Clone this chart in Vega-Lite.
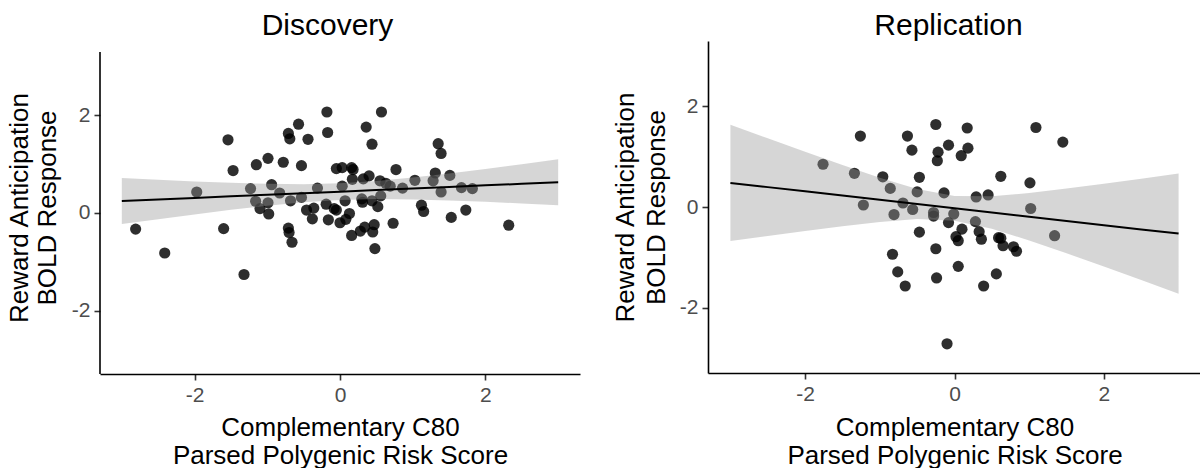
{
  "$schema": "https://vega.github.io/schema/vega-lite/v6.json",
  "padding": {"left": 6, "top": 10, "right": 0, "bottom": 0},
  "background": "white",
  "config": {
    "view": {"stroke": null},
    "font": "Liberation Sans",
    "axis": {"grid": false, "domainColor": "black", "domainWidth": 1.6, "tickColor": "#333333", "tickWidth": 1.6, "tickSize": 6, "labelFontSize": 21, "labelColor": "#4d4d4d", "labelPadding": 4, "titleFontSize": 26, "titleFontWeight": "normal", "titleColor": "black", "titleLineHeight": 28, "labelExpr": "'' + datum.value"}
  },
  "datasets": {
    "disc": [
      {"x": -2.81, "y": -0.33}, {"x": -2.41, "y": -0.82}, {"x": -1.97, "y": 0.43}, {"x": -1.54, "y": 1.50}, {"x": -1.47, "y": 0.87}, {"x": -1.60, "y": -0.32}, {"x": -1.32, "y": -1.26}, {"x": -1.23, "y": 0.50}, {"x": -1.15, "y": 0.99}, {"x": -0.99, "y": 1.12}, {"x": -0.94, "y": 0.58}, {"x": -1.16, "y": 0.24}, {"x": -1.10, "y": 0.09}, {"x": -0.99, "y": 0.21}, {"x": -0.98, "y": -0.02}, {"x": -0.83, "y": 0.41}, {"x": -0.78, "y": 1.04}, {"x": -0.71, "y": 1.63}, {"x": -0.69, "y": 1.52}, {"x": -0.57, "y": 1.82}, {"x": -0.44, "y": 1.51}, {"x": -0.53, "y": 0.97}, {"x": -0.68, "y": 0.25}, {"x": -0.71, "y": -0.31}, {"x": -0.70, "y": -0.40}, {"x": -0.66, "y": -0.60}, {"x": -0.53, "y": 0.32}, {"x": -0.46, "y": 0.06}, {"x": -0.36, "y": 0.10}, {"x": -0.38, "y": -0.12}, {"x": -0.31, "y": 0.51}, {"x": -0.18, "y": 2.07}, {"x": -0.17, "y": 1.65}, {"x": -0.19, "y": 0.18}, {"x": -0.16, "y": -0.14}, {"x": -0.08, "y": 0.09}, {"x": -0.05, "y": 0.06}, {"x": -0.05, "y": 0.91}, {"x": 0.03, "y": 0.93}, {"x": 0.16, "y": 0.93}, {"x": 0.18, "y": 0.89}, {"x": 0.17, "y": 0.69}, {"x": 0.03, "y": 0.55}, {"x": 0.07, "y": 0.25}, {"x": 0.00, "y": -0.20}, {"x": 0.08, "y": -0.13}, {"x": 0.13, "y": -0.01}, {"x": 0.16, "y": -0.46}, {"x": 0.28, "y": -0.37}, {"x": 0.34, "y": -0.29}, {"x": 0.45, "y": -0.39}, {"x": 0.47, "y": -0.24}, {"x": 0.48, "y": -0.73}, {"x": 0.36, "y": 1.76}, {"x": 0.57, "y": 2.07}, {"x": 0.44, "y": 1.41}, {"x": 0.32, "y": 0.70}, {"x": 0.40, "y": 0.76}, {"x": 0.30, "y": 0.29}, {"x": 0.31, "y": 0.22}, {"x": 0.44, "y": 0.25}, {"x": 0.52, "y": 0.13}, {"x": 0.56, "y": 0.35}, {"x": 0.55, "y": 0.66}, {"x": 0.63, "y": 0.61}, {"x": 0.69, "y": 0.55}, {"x": 0.77, "y": 0.89}, {"x": 0.73, "y": -0.21}, {"x": 0.86, "y": 0.51}, {"x": 1.03, "y": 0.67}, {"x": 1.12, "y": 0.16}, {"x": 1.15, "y": 0.03}, {"x": 1.28, "y": 0.66}, {"x": 1.31, "y": 0.82}, {"x": 1.35, "y": 1.42}, {"x": 1.39, "y": 1.22}, {"x": 1.39, "y": 0.43}, {"x": 1.51, "y": 0.77}, {"x": 1.53, "y": -0.09}, {"x": 1.67, "y": 0.52}, {"x": 1.82, "y": 0.50}, {"x": 1.73, "y": 0.06}, {"x": 2.32, "y": -0.25}
    ],
    "disc_fit": [
      {"x": -3, "fit": 0.245, "lo": -0.225, "hi": 0.715}, {"x": -2.5, "fit": 0.277, "lo": -0.126, "hi": 0.680}, {"x": -2, "fit": 0.309, "lo": -0.029, "hi": 0.647}, {"x": -1.5, "fit": 0.341, "lo": 0.064, "hi": 0.618}, {"x": -1, "fit": 0.373, "lo": 0.149, "hi": 0.597}, {"x": -0.5, "fit": 0.405, "lo": 0.220, "hi": 0.590}, {"x": 0, "fit": 0.437, "lo": 0.267, "hi": 0.607}, {"x": 0.5, "fit": 0.470, "lo": 0.285, "hi": 0.655}, {"x": 1, "fit": 0.502, "lo": 0.278, "hi": 0.726}, {"x": 1.5, "fit": 0.534, "lo": 0.257, "hi": 0.811}, {"x": 2, "fit": 0.566, "lo": 0.228, "hi": 0.904}, {"x": 2.5, "fit": 0.598, "lo": 0.195, "hi": 1.001}, {"x": 3, "fit": 0.630, "lo": 0.160, "hi": 1.100}
    ],
    "rep": [
      {"x": -1.76, "y": 0.85}, {"x": -1.26, "y": 1.41}, {"x": -1.34, "y": 0.67}, {"x": -1.22, "y": 0.04}, {"x": -0.96, "y": 0.60}, {"x": -0.86, "y": 0.37}, {"x": -0.81, "y": -0.15}, {"x": -0.69, "y": 0.08}, {"x": -0.63, "y": 1.41}, {"x": -0.57, "y": 1.13}, {"x": -0.56, "y": -0.05}, {"x": -0.50, "y": 0.30}, {"x": -0.47, "y": 0.59}, {"x": -0.47, "y": -0.50}, {"x": -0.83, "y": -0.94}, {"x": -0.76, "y": -1.29}, {"x": -0.66, "y": -1.57}, {"x": -0.25, "y": 1.64}, {"x": -0.22, "y": 1.09}, {"x": -0.23, "y": 0.92}, {"x": -0.08, "y": 1.23}, {"x": -0.14, "y": 0.28}, {"x": -0.28, "y": -0.11}, {"x": -0.28, "y": -0.18}, {"x": -0.01, "y": -0.14}, {"x": -0.08, "y": -0.31}, {"x": -0.25, "y": -0.83}, {"x": -0.24, "y": -1.41}, {"x": -0.10, "y": -2.72}, {"x": 0.17, "y": 1.57}, {"x": 0.18, "y": 1.17}, {"x": 0.09, "y": 1.02}, {"x": 0.10, "y": -0.44}, {"x": 0.02, "y": -0.59}, {"x": 0.05, "y": -0.67}, {"x": 0.05, "y": -1.18}, {"x": 0.29, "y": 0.20}, {"x": 0.45, "y": 0.24}, {"x": 0.28, "y": -0.29}, {"x": 0.33, "y": -0.49}, {"x": 0.36, "y": -0.64}, {"x": 0.39, "y": -1.57}, {"x": 0.56, "y": -1.33}, {"x": 0.59, "y": -0.61}, {"x": 0.62, "y": -0.62}, {"x": 0.65, "y": -0.77}, {"x": 0.62, "y": 0.61}, {"x": 0.79, "y": -0.79}, {"x": 0.83, "y": -0.88}, {"x": 1.01, "y": 0.48}, {"x": 1.02, "y": -0.03}, {"x": 1.09, "y": 1.58}, {"x": 1.34, "y": -0.57}, {"x": 1.45, "y": 1.29}
    ],
    "rep_fit": [
      {"x": -3, "fit": 0.479, "lo": -0.678, "hi": 1.636}, {"x": -2.5, "fit": 0.395, "lo": -0.576, "hi": 1.366}, {"x": -2, "fit": 0.311, "lo": -0.476, "hi": 1.098}, {"x": -1.5, "fit": 0.227, "lo": -0.381, "hi": 0.835}, {"x": -1, "fit": 0.143, "lo": -0.296, "hi": 0.582}, {"x": -0.5, "fit": 0.059, "lo": -0.241, "hi": 0.359}, {"x": 0, "fit": -0.025, "lo": -0.271, "hi": 0.221}, {"x": 0.5, "fit": -0.109, "lo": -0.432, "hi": 0.214}, {"x": 1, "fit": -0.193, "lo": -0.664, "hi": 0.278}, {"x": 1.5, "fit": -0.277, "lo": -0.920, "hi": 0.366}, {"x": 2, "fit": -0.361, "lo": -1.184, "hi": 0.462}, {"x": 2.5, "fit": -0.445, "lo": -1.453, "hi": 0.563}, {"x": 3, "fit": -0.529, "lo": -1.724, "hi": 0.666}
    ]
  },
  "spacing": 32,
  "bounds": "full",
  "hconcat": [
    {
      "width": 480,
      "height": 333,
      "resolve": {"axis": {"x": "independent"}},
      "layer": [
        {
          "data": {"name": "disc"},
          "mark": {"type": "circle", "size": 125, "color": "black", "opacity": 0.82},
          "encoding": {
            "x": {"field": "x", "type": "quantitative", "scale": {"domain": [-3.3, 3.3], "nice": false, "zero": false}, "axis": {"values": [-2, 0, 2], "title": ["Complementary C80", "Parsed Polygenic Risk Score"], "titlePadding": 9}},
            "y": {"field": "y", "type": "quantitative", "scale": {"domain": [-3.3, 3.525], "nice": false, "zero": false}, "axis": {"values": [-2, 0, 2], "domain": false, "title": ["Reward Anticipation", "BOLD Response"], "titlePadding": 11, "titleLineHeight": 28}}
          }
        },
        {
          "data": {"values": [{}]},
          "mark": {"type": "rule", "color": "black", "strokeWidth": 1.6},
          "encoding": {
            "x": {"datum": -3.3, "type": "quantitative", "axis": null},
            "y": {"datum": -3.3, "type": "quantitative"},
            "y2": {"datum": 3.3}
          }
        },
        {
          "data": {"name": "disc_fit"},
          "mark": {"type": "area", "color": "#999999", "opacity": 0.4},
          "encoding": {
            "x": {"field": "x", "type": "quantitative", "axis": null},
            "y": {"field": "lo", "type": "quantitative"},
            "y2": {"field": "hi"}
          }
        },
        {
          "data": {"name": "disc_fit"},
          "mark": {"type": "line", "color": "black", "strokeWidth": 2},
          "encoding": {
            "x": {"field": "x", "type": "quantitative", "axis": {"orient": "top", "domain": false, "ticks": false, "tickSize": 0, "labels": false, "title": "Discovery", "titleFontSize": 30, "titleBaseline": "alphabetic", "titlePadding": 7, "titleX": 227}},
            "y": {"field": "fit", "type": "quantitative"}
          }
        }
      ]
    },
    {
      "width": 493,
      "height": 332,
      "resolve": {"axis": {"x": "independent"}},
      "layer": [
        {
          "data": {"name": "rep"},
          "mark": {"type": "circle", "size": 125, "color": "black", "opacity": 0.82},
          "encoding": {
            "x": {"field": "x", "type": "quantitative", "scale": {"domain": [-3.3, 3.3], "nice": false, "zero": false}, "axis": {"values": [-2, 0, 2], "title": ["Complementary C80", "Parsed Polygenic Risk Score"], "titlePadding": 10}},
            "y": {"field": "y", "type": "quantitative", "scale": {"domain": [-3.3, 3.3], "nice": false, "zero": false}, "axis": {"values": [-2, 0, 2], "title": ["Reward Anticipation", "BOLD Response"], "titlePadding": 10, "titleLineHeight": 31}}
          }
        },
        {
          "data": {"name": "rep_fit"},
          "mark": {"type": "area", "color": "#999999", "opacity": 0.4},
          "encoding": {
            "x": {"field": "x", "type": "quantitative", "axis": null},
            "y": {"field": "lo", "type": "quantitative"},
            "y2": {"field": "hi"}
          }
        },
        {
          "data": {"name": "rep_fit"},
          "mark": {"type": "line", "color": "black", "strokeWidth": 2},
          "encoding": {
            "x": {"field": "x", "type": "quantitative", "axis": {"orient": "top", "domain": false, "ticks": false, "tickSize": 0, "labels": false, "title": "Replication", "titleFontSize": 30, "titleBaseline": "alphabetic", "titlePadding": 7, "titleX": 240}},
            "y": {"field": "fit", "type": "quantitative"}
          }
        }
      ]
    }
  ]
}
